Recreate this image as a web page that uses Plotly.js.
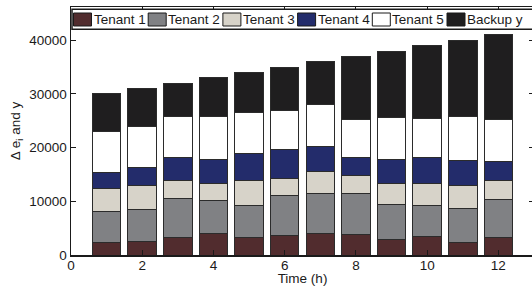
<!DOCTYPE html>
<html>
<head>
<meta charset="utf-8">
<script src="https://cdn.plot.ly/plotly-3.0.1.min.js"></script>
<style>
html, body { margin: 0; padding: 0; overflow: hidden; background: #fff; }
#chart { width: 534px; height: 286px; }
</style>
</head>
<body>
<div id="chart"></div>
<script>
// ---- data ----
const hours = [1, 2, 3, 4, 5, 6, 7, 8, 9, 10, 11, 12];
const seriesNames = ["Tenant 1", "Tenant 2", "Tenant 3", "Tenant 4", "Tenant 5", "Backup y"];
const tenant1 = [2260, 2450, 3260, 4000, 3260, 3570, 3940, 3810, 2820, 3500, 2260, 3190];
const tenant2 = [5830, 6080, 7190, 6080, 5950, 7500, 7440, 7690, 6570, 5770, 6320, 7130];
const tenant3 = [4220, 4340, 3350, 3160, 4590, 3220, 4220, 3350, 3840, 3970, 4400, 3470];
const tenant4 = [3100, 3410, 4340, 4460, 5020, 5390, 4590, 3290, 4650, 4900, 4710, 3600];
const tenant5 = [7560, 7690, 7750, 8180, 7690, 7250, 7810, 7190, 7810, 7250, 8120, 7810];
const backupY = [7030, 7040, 6115, 7115, 7495, 8060, 8010, 11670, 12300, 13610, 14180, 15800];
const xTicks = [0, 2, 4, 6, 8, 10, 12];
const yTicks = [0, 10000, 20000, 30000, 40000];

// ---- styles ----
const colors = ["#512c2e", "#808184", "#d7d3c9", "#232c6b", "#ffffff", "#1f1e1f"];
const font = "Arial, 'Liberation Sans', Helvetica, sans-serif";
const allSeries = [tenant1, tenant2, tenant3, tenant4, tenant5, backupY];

const traces = allSeries.map((vals, i) => ({
  type: "bar",
  x: hours,
  y: vals,
  name: seriesNames[i],
  width: 0.8,
  marker: { color: colors[i], line: { color: "#2b2b2b", width: 1 } },
  showlegend: false
}));

// geometry of the plot area (pixels) used to place the drawn legend
const W = 534, H = 286;
const M = { l: 71, r: 0, t: 7, b: 31 };
const pw = W - M.l - M.r, ph = H - M.t - M.b;
const px2x = p => (p - M.l) / pw;
const py2y = p => (H - M.b - p) / ph;

const shapes = [];
const annotations = [];
// legend box
shapes.push({
  type: "rect", xref: "paper", yref: "paper", layer: "above",
  x0: px2x(72), x1: px2x(560), y0: py2y(29.3), y1: py2y(9.3),
  fillcolor: "#ffffff", line: { color: "#1a1a1a", width: 1.5 }
});
const itemStep = 74.7, itemStart = 73.5;
seriesNames.forEach((name, i) => {
  const sx = itemStart + itemStep * i;
  shapes.push({
    type: "rect", xref: "paper", yref: "paper", layer: "above",
    x0: px2x(sx), x1: px2x(sx + 18), y0: py2y(26), y1: py2y(13),
    fillcolor: colors[i], line: { color: "#1a1a1a", width: 1 }
  });
  annotations.push({
    xref: "paper", yref: "paper", x: px2x(sx + 19), y: py2y(19.5),
    xanchor: "left", yanchor: "middle", showarrow: false,
    text: name, font: { family: font, size: 13.5, color: "#1a1a1a" },
    borderpad: 0
  });
});

const layout = {
  width: W, height: H,
  margin: M,
  barmode: "stack",
  paper_bgcolor: "#ffffff",
  plot_bgcolor: "#ffffff",
  font: { family: font, size: 13.5, color: "#1a1a1a" },
  showlegend: false,
  xaxis: {
    range: [0, 13],
    tickmode: "array", tickvals: xTicks, ticktext: xTicks.map(String),
    ticks: "inside", ticklen: 5, tickwidth: 1, tickcolor: "#1a1a1a",
    ticklabelstandoff: -3,
    showline: true, linecolor: "#1a1a1a", linewidth: 1.5, mirror: "ticks",
    showgrid: false, zeroline: false,
    title: { text: "Time (h)", font: { family: font, size: 13.5, color: "#1a1a1a" }, standoff: 0 }
  },
  yaxis: {
    range: [0, 46200],
    tickmode: "array", tickvals: yTicks, ticktext: yTicks.map(String),
    ticks: "inside", ticklen: 5, tickwidth: 1, tickcolor: "#1a1a1a",
    showline: true, linecolor: "#1a1a1a", linewidth: 1.5, mirror: "ticks",
    showgrid: false, zeroline: false,
    title: { text: "\u0394 e<sub>i</sub> and y", font: { family: font, size: 13.5, color: "#1a1a1a" }, standoff: 5 }
  },
  shapes: shapes,
  annotations: annotations
};

Plotly.newPlot("chart", traces, layout, { displayModeBar: false, staticPlot: true });
</script>
</body>
</html>
